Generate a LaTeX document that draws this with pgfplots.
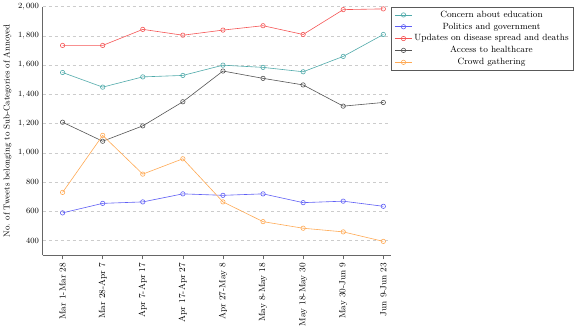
\documentclass[border=0pt]{standalone}
\usepackage{pgfplots}
\pgfplotsset{compat=1.18}

\definecolor{cedu}{RGB}{80,170,170}
\definecolor{cpol}{RGB}{95,95,245}
\definecolor{cupd}{RGB}{245,85,85}
\definecolor{chea}{RGB}{85,85,85}
\definecolor{ccro}{RGB}{255,170,85}

\begin{document}
\begin{tikzpicture}
\begin{axis}[
  scale only axis,
  width=348pt, height=248pt,
  xmin=-0.5, xmax=8.2,
  ymin=300, ymax=2000,
  axis lines*=left,
  axis line style={gray!80!black, line width=0.8pt, -},
  xtick={0,...,8},
  xticklabels={Mar 1-Mar 28, Mar 28-Apr 7, Apr 7-Apr 17, Apr 17-Apr 27, Apr 27-May 8, May 8-May 18, May 18-May 30, May 30-Jun 9, Jun 9-Jun 23},
  x tick label style={rotate=90, anchor=east, font=\small},
  xtick align=outside,
  x tick style={gray!80!black, line width=0.6pt},
  major tick length=4pt,
  ytick={400,600,...,2000},
  ytick style={draw=none},
  y tick label style={font=\footnotesize, /pgf/number format/1000 sep={,}},
  ymajorgrids,
  grid style={dashed, gray!40, line width=0.6pt},
  ylabel={No. of Tweets belonging to Sub-Categories of Annoyed},
  ylabel style={font=\fontsize{8.6}{10}\selectfont},
  legend style={at={(1,1)}, anchor=north west, font=\small, draw=gray!70!black, line width=0.6pt, row sep=0pt},
  legend cell align=center,
  every axis plot/.append style={line width=0.6pt, mark=o, mark size=2.2pt, mark options={solid, line width=0.6pt}},
]
\addplot[color=cedu] coordinates {(0,1550) (1,1450) (2,1520) (3,1530) (4,1600) (5,1585) (6,1555) (7,1660) (8,1810)};
\addplot[color=cpol] coordinates {(0,590) (1,655) (2,665) (3,720) (4,710) (5,720) (6,660) (7,670) (8,635)};
\addplot[color=cupd] coordinates {(0,1735) (1,1735) (2,1845) (3,1805) (4,1840) (5,1870) (6,1810) (7,1980) (8,1985)};
\addplot[color=chea] coordinates {(0,1210) (1,1080) (2,1185) (3,1350) (4,1560) (5,1510) (6,1465) (7,1320) (8,1345)};
\addplot[color=ccro] coordinates {(0,730) (1,1120) (2,855) (3,960) (4,665) (5,530) (6,485) (7,460) (8,395)};
\legend{Concern about education, Politics and government, Updates on disease spread and deaths, Access to healthcare, Crowd gathering}
\end{axis}
\end{tikzpicture}
\end{document}
